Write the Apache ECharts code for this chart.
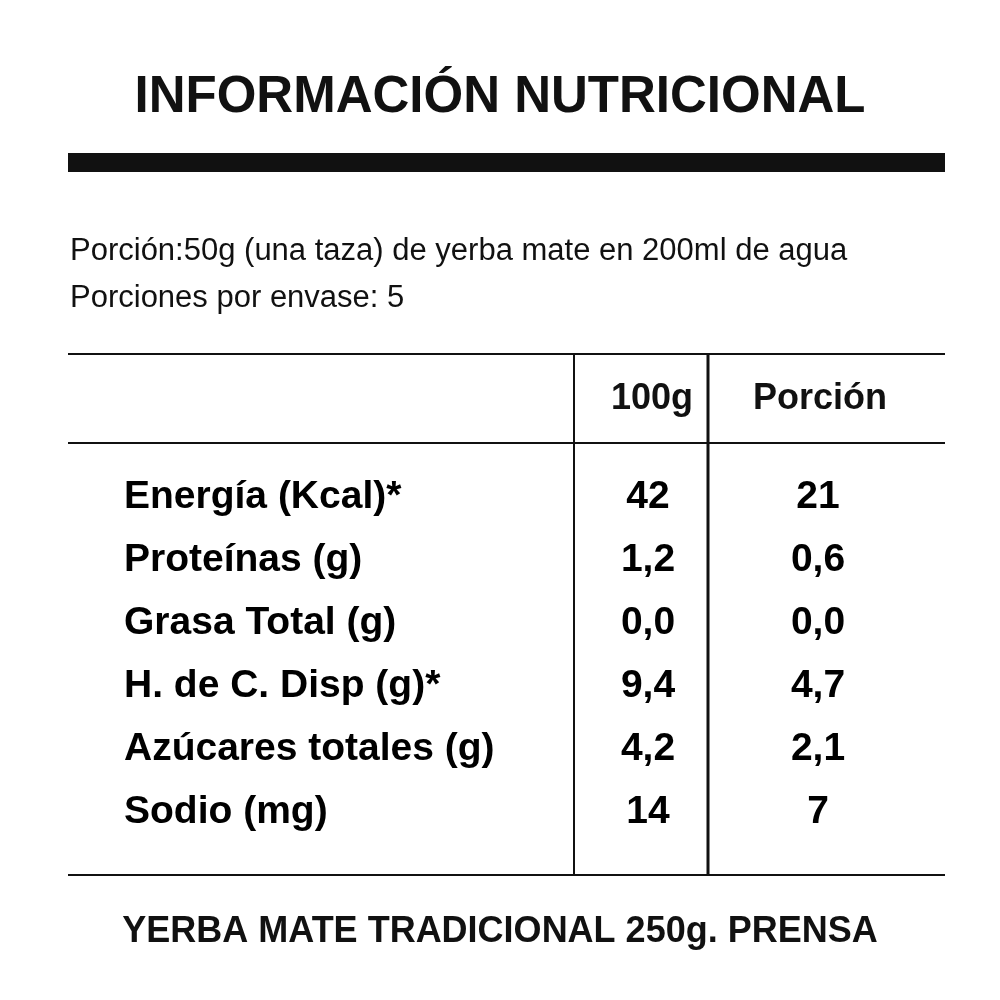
<!DOCTYPE html>
<html><head><meta charset="utf-8">
<script src="https://cdn.jsdelivr.net/npm/echarts@6/dist/echarts.min.js"></script>
<style>html,body{margin:0;background:#fff}#c{width:1000px;height:1000px}</style>
</head><body><div id="c"></div>
<script>
const title = 'INFORMACIÓN NUTRICIONAL';
const servingLines = ['Porción:50g (una taza) de yerba mate en 200ml de agua', 'Porciones por envase: 5'];
const headers = ['100g', 'Porción'];
const nutrients = ['Energía (Kcal)*', 'Proteínas (g)', 'Grasa Total (g)', 'H. de C. Disp (g)*', 'Azúcares totales (g)', 'Sodio (mg)'];
const per100g = ['42', '1,2', '0,0', '9,4', '4,2', '14'];
const perPortion = ['21', '0,6', '0,0', '4,7', '2,1', '7'];
const footer = 'YERBA MATE TRADICIONAL 250g. PRENSA';

const F = '"Liberation Sans", Arial, sans-serif';
const cols = {label: 56, a: 580, b: 750};
function pts(col, vals) { return vals.map((v, i) => [col, i, v]); }
function textSeries(data, align, size) {
  return {type: 'scatter', symbolSize: 0, data, silent: true, itemStyle: {opacity: 1},
    label: {show: true, position: 'inside', formatter: p => p.value[2], color: '#000', opacity: 1,
      fontFamily: F, fontWeight: 'bold', fontSize: size, align: align, verticalAlign: 'middle'}};
}
const chart = echarts.init(document.getElementById('c'));
const L = (x1, y1, x2, y2, w) => ({type: 'line', shape: {x1, y1, x2, y2}, style: {stroke: '#111', lineWidth: w}});
chart.setOption({
  animation: false,
  grid: {left: 68, right: 55, top: 443, bottom: 125},
  xAxis: {type: 'value', min: 0, max: 877, show: false},
  yAxis: {type: 'value', min: -0.857, max: 6, inverse: true, show: false},
  graphic: [
    {type: 'text', left: 'center', top: 72, style: {text: title, font: 'bold 51px ' + F, fill: '#111'}},
    {type: 'rect', shape: {x: 68, y: 153, width: 877, height: 19}, style: {fill: '#111'}},
    {type: 'text', left: 70, top: 236, style: {text: servingLines[0], font: '31px ' + F, fill: '#111'}},
    {type: 'text', left: 70, top: 283, style: {text: servingLines[1], font: '31px ' + F, fill: '#111'}},
    L(68, 354, 945, 354, 2), L(68, 443, 945, 443, 2), L(68, 875, 945, 875, 2),
    L(574, 354, 574, 875, 2), L(708, 354, 708, 875, 3),
    {type: 'text', x: 652, y: 399, style: {text: headers[0], font: 'bold 36px ' + F, fill: '#111', align: 'center', verticalAlign: 'middle'}},
    {type: 'text', x: 820, y: 399, style: {text: headers[1], font: 'bold 36px ' + F, fill: '#111', align: 'center', verticalAlign: 'middle'}},
    {type: 'text', left: 'center', top: 914, style: {text: footer, font: 'bold 36px ' + F, fill: '#111'}}
  ],
  series: [
    textSeries(pts(cols.label, nutrients), 'left', 39),
    textSeries(pts(cols.a, per100g), 'center', 39),
    textSeries(pts(cols.b, perPortion), 'center', 39)
  ]
});
</script></body></html>
